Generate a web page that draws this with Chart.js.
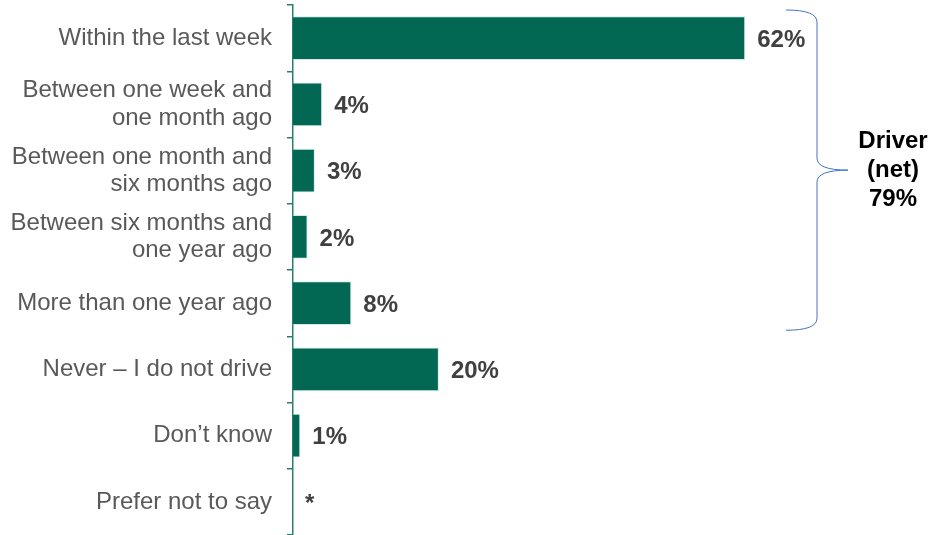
<!DOCTYPE html>
<html>
<head>
<meta charset="utf-8">
<script src="https://cdn.jsdelivr.net/npm/chart.js@4"></script>
<style>
  html, body { margin: 0; padding: 0; background: #fff; }
  #wrap { width: 930px; height: 535px; }
</style>
</head>
<body>
<div id="wrap"><canvas id="lastDrove"></canvas></div>
<script>
// When respondents last drove a car
const categories = [
    'Within the last week',
    ['Between one week and', 'one month ago'],
    ['Between one month and', 'six months ago'],
    ['Between six months and', 'one year ago'],
    'More than one year ago',
    'Never \u2013 I do not drive',
    'Don\u2019t know',
    'Prefer not to say'
];
const shares = [62, 4, 3, 2, 8, 20, 1, 0];
const shareLabels = ['62%', '4%', '3%', '2%', '8%', '20%', '1%', '*'];

// Driver (net) bracket covers the first five rows
const netFirst = 0;
const netLast = 4;
const netLines = ['Driver', '(net)', '79%'];

const GREEN = '#036853';
const AXIS = '#2a7f6c';
const FONT = '"Liberation Sans", Arial, sans-serif';

// value labels at the end of each bar
const valueLabels = {
    id: 'valueLabels',
    afterDatasetsDraw(chart) {
        const ctx = chart.ctx;
        const meta = chart.getDatasetMeta(0);
        ctx.save();
        ctx.font = 'bold 24px ' + FONT;
        ctx.fillStyle = '#404040';
        ctx.textBaseline = 'middle';
        meta.data.forEach((bar, i) => {
            ctx.fillText(shareLabels[i], bar.x + 12, bar.y + 2);
        });
        ctx.restore();
    }
};

// curly brace with the net label
const netBrace = {
    id: 'netBrace',
    afterDraw(chart) {
        const ctx = chart.ctx;
        const y = chart.scales.y;
        const half = (y.getPixelForValue(1) - y.getPixelForValue(0)) / 2;
        const top = y.getPixelForValue(netFirst) - half + 5;
        const bottom = y.getPixelForValue(netLast) + half - 6;
        const mid = (top + bottom) / 2;
        const x0 = 786, x1 = 817, x2 = 848, r = 12;

        ctx.save();
        ctx.strokeStyle = '#4472c4';
        ctx.lineWidth = 1;
        ctx.beginPath();
        ctx.moveTo(x0, top);
        ctx.quadraticCurveTo(x1, top, x1, top + r);
        ctx.lineTo(x1, mid - r);
        ctx.quadraticCurveTo(x1, mid, x2, mid);
        ctx.quadraticCurveTo(x1, mid, x1, mid + r);
        ctx.lineTo(x1, bottom - r);
        ctx.quadraticCurveTo(x1, bottom, x0, bottom);
        ctx.stroke();

        ctx.font = 'bold 24px ' + FONT;
        ctx.fillStyle = '#000';
        ctx.textAlign = 'center';
        ctx.textBaseline = 'middle';
        netLines.forEach((t, i) => {
            ctx.fillText(t, 893, mid - 29 + i * 29);
        });
        ctx.restore();
    }
};

new Chart(document.getElementById('lastDrove'), {
    type: 'bar',
    data: {
        labels: categories,
        datasets: [{
            data: shares,
            backgroundColor: GREEN,
            borderColor: 'rgba(180,220,205,0.6)',
            borderWidth: 1,
            borderSkipped: 'left',
            categoryPercentage: 1,
            barPercentage: 0.66
        }]
    },
    options: {
        indexAxis: 'y',
        responsive: true,
        maintainAspectRatio: false,
        animation: false,
        layout: { padding: { top: 5, right: 17, bottom: 0, left: 0 } },
        plugins: {
            legend: { display: false },
            tooltip: { enabled: false }
        },
        scales: {
            x: {
                display: false,
                min: 0,
                max: 85
            },
            y: {
                afterFit(scale) {
                    scale.width = 293;
                    scale.paddingTop = 0;
                    scale.paddingBottom = 0;
                },
                border: { display: true, color: AXIS, width: 1.5 },
                grid: {
                    display: true,
                    drawOnChartArea: false,
                    drawTicks: true,
                    tickLength: 6,
                    color: AXIS,
                    lineWidth: 1.5
                },
                ticks: {
                    color: '#595959',
                    padding: 15,
                    font: { family: FONT, size: 24, lineHeight: 1.13 }
                }
            }
        }
    },
    plugins: [valueLabels, netBrace]
});
</script>
</body>
</html>
